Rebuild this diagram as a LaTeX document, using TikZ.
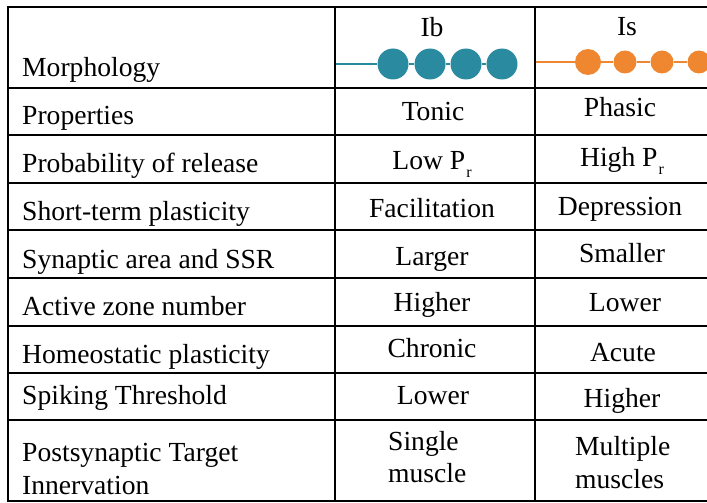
\documentclass[tikz,border=0pt]{standalone}
\usepackage{fontspec}
\setmainfont{Liberation Serif}
\definecolor{ibteal}{HTML}{2A8AA0}
\definecolor{isorange}{HTML}{EF8630}
\newcommand{\prsub}{\kern1pt\raisebox{-0.32em}{\fontsize{16}{16}\selectfont r}}
\begin{document}
\begin{tikzpicture}[x=1pt, y=-1pt,
  every node/.style={font=\fontsize{27.6}{32}\selectfont, inner sep=0pt},
  row label/.style={anchor=base west},
  cell/.style={anchor=base},
  grid line/.style={draw, line width=2.3pt},
  ib bouton/.style={circle, fill=ibteal, minimum size=31pt},
  is bouton/.style={circle, fill=isorange, minimum size=23pt}
]
\clip (0,0) rectangle (707,503);
% Define the grid
\draw[grid line] (8,7) rectangle (730,501);
\foreach \y in {88,135,183,230,278,326,373,420}
  \draw[grid line] (8,\y) -- (730,\y);
\draw[grid line] (335,7) -- (335,501);
\draw[grid line] (535,7) -- (535,501);
% Define the header
\node[cell] (ib) at (432,37) {Ib};
\node[cell] (is) at (627,36) {Is};
\coordinate (ibstart) at (336,64);
\coordinate (isstart) at (536,62);
\node[ib bouton] (ib1) at (393,64) {};
\node[ib bouton] (ib2) at (430,64) {};
\node[ib bouton] (ib3) at (466,64) {};
\node[ib bouton] (ib4) at (502,64) {};
\node[is bouton, minimum size=26pt] (is1) at (588,62) {};
\node[is bouton] (is2) at (625,62) {};
\node[is bouton] (is3) at (662,62) {};
\node[is bouton] (is4) at (699,62) {};
% Define the axon segments
\path[draw, ibteal, line width=2.2pt] (ibstart) -- (ib1) -- (ib2) -- (ib3) -- (ib4);
\path[draw, isorange, line width=2.2pt] (isstart) -- (is1) -- (is2) -- (is3) -- (is4);
% Define the row labels
\node[row label] (morph) at (22,77) {Morphology};
\node[row label] (prop) at (22,124) {Properties};
\node[row label] (prob) at (22,172) {Probability of release};
\node[row label] (stp) at (22,220) {Short-term plasticity};
\node[row label] (area) at (22,268) {Synaptic area and SSR};
\node[row label] (az) at (22,315) {Active zone number};
\node[row label] (homeo) at (22,363) {Homeostatic plasticity};
\node[row label] (spike) at (22,404) {Spiking Threshold};
\node[row label] (post) at (22,461) {Postsynaptic Target};
\node[row label] (innerv) at (22,494) {Innervation};
% Define the Ib column
\node[cell] (ibprop) at (433,121) {Tonic};
\node[cell] (ibprob) at (432,169) {Low P\prsub};
\node[cell] (ibstp) at (432,217) {Facilitation};
\node[cell] (ibarea) at (432,265) {Larger};
\node[cell] (ibaz) at (432,311) {Higher};
\node[cell] (ibhomeo) at (432,357) {Chronic};
\node[cell] (ibspike) at (433,404) {Lower};
\node[row label] (ibpost) at (388,450) {Single};
\node[row label] (ibinnerv) at (388,482) {muscle};
% Define the Is column
\node[cell] (isprop) at (620,117) {Phasic};
\node[cell] (isprob) at (622,166) {High P\prsub};
\node[cell] (isstp) at (620,215) {Depression};
\node[cell] (isarea) at (622,262) {Smaller};
\node[cell] (isaz) at (625,311) {Lower};
\node[cell] (ishomeo) at (623,361) {Acute};
\node[cell] (isspike) at (622,407) {Higher};
\node[row label] (ispost) at (575,455) {Multiple};
\node[row label] (isinnerv) at (575,488) {muscles};
\end{tikzpicture}
\end{document}
